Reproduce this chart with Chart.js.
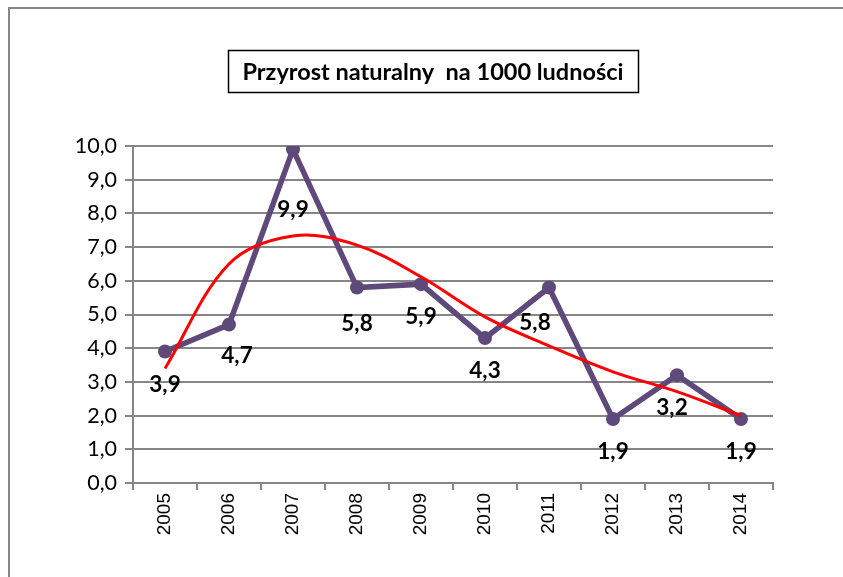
<!DOCTYPE html>
<html>
<head>
<meta charset="utf-8">
<script src="https://cdn.jsdelivr.net/npm/chart.js@4/dist/chart.umd.min.js"></script>
<style>
  html, body { margin: 0; padding: 0; background: #fff; }
  canvas { display: block; }
</style>
</head>
<body>
<canvas id="przyrostGrafico" width="843" height="577"></canvas>
<script>
// dane
var lata = ['2005', '2006', '2007', '2008', '2009', '2010', '2011', '2012', '2013', '2014'];
var przyrost = [3.9, 4.7, 9.9, 5.8, 5.9, 4.3, 5.8, 1.9, 3.2, 1.9];
// linia trendu (czerwona) odczytana w punktach lat
var trend = [3.4, 6.5, 7.33, 7.06, 6.12, 4.93, 4.07, 3.30, 2.71, 2.0];
var tytul = 'Przyrost naturalny  na 1000 ludności';

var fiolet = '#5F497A',
    szary = '#868686',
    ctx = document.getElementById('przyrostGrafico').getContext('2d');

function liczbaPL(v) {
    return Number(v).toFixed(1).replace('.', ',');
}

// ramka wykresu i tytul w ramce
var ramkaPlugin = {
    id: 'ramka',
    beforeDraw: function (chart) {
        var c = chart.ctx;
        c.save();
        c.fillStyle = '#fff';
        c.fillRect(0, 0, chart.width, chart.height);
        c.strokeStyle = szary;
        c.lineWidth = 2;
        c.strokeRect(9, 8, chart.width + 20, chart.height + 20);
        c.restore();
    },
    afterDraw: function (chart) {
        var c = chart.ctx;
        c.save();
        c.strokeStyle = '#000';
        c.lineWidth = 1.5;
        c.strokeRect(228.5, 50.5, 410, 42);
        c.fillStyle = '#000';
        c.font = 'bold 23.5px Lato';
        c.textAlign = 'center';
        c.textBaseline = 'middle';
        c.fillText(tytul, 433, 72);
        c.restore();
    }
};

// etykiety danych pod punktami
var etykietyPlugin = {
    id: 'etykiety',
    afterDatasetsDraw: function (chart, args, opts) {
        var meta = chart.getDatasetMeta(1),
            c = chart.ctx;
        c.save();
        c.fillStyle = '#000';
        c.font = 'bold 22.5px Lato';
        c.textAlign = 'center';
        c.textBaseline = 'middle';
        meta.data.forEach(function (pt, i) {
            var s = opts.przesun[i] || [0, 0];
            c.fillText(liczbaPL(przyrost[i]), pt.x + s[0], pt.y + opts.odstep + s[1]);
        });
        c.restore();
    }
};

var wykres = new Chart(ctx, {
    type: 'line',
    data: {
        labels: lata,
        datasets: [{
            label: 'trend',
            data: trend,
            borderColor: '#FF0000',
            borderWidth: 3,
            pointRadius: 0,
            tension: 0.35,
            fill: false,
            order: 0
        }, {
            label: 'przyrost',
            data: przyrost,
            borderColor: fiolet,
            backgroundColor: fiolet,
            borderWidth: 5.5,
            pointRadius: 7,
            pointBackgroundColor: fiolet,
            pointBorderColor: fiolet,
            pointBorderWidth: 0,
            tension: 0,
            fill: false,
            order: 1
        }]
    },
    options: {
        responsive: false,
        animation: false,
        layout: { padding: { left: 0, right: 70, top: 146, bottom: 0 } },
        plugins: {
            legend: { display: false },
            tooltip: { enabled: false },
            etykiety: {
                odstep: 33,
                przesun: { 1: [8, -2], 2: [0, 27], 3: [0, 3], 6: [-14, 2], 8: [-5, 0] }
            }
        },
        scales: {
            x: {
                offset: true,
                grid: {
                    offset: true,
                    drawOnChartArea: false,
                    color: szary,
                    lineWidth: 2,
                    tickLength: 7
                },
                border: { color: szary, width: 2 },
                ticks: {
                    color: '#000',
                    font: { family: 'Liberation Sans', size: 19 },
                    minRotation: 90,
                    maxRotation: 90,
                    padding: 3
                },
                afterFit: function (scale) { scale.height = 94; }
            },
            y: {
                min: 0,
                max: 10,
                ticks: {
                    stepSize: 1,
                    color: '#000',
                    font: { family: 'Lato', size: 21.5 },
                    padding: 8,
                    callback: function (v) { return liczbaPL(v); }
                },
                grid: {
                    color: szary,
                    lineWidth: 2,
                    tickLength: 8
                },
                border: { color: szary, width: 2 },
                afterFit: function (scale) { scale.width = 133; }
            }
        }
    },
    plugins: [ramkaPlugin, etykietyPlugin]
});
</script>
</body>
</html>
